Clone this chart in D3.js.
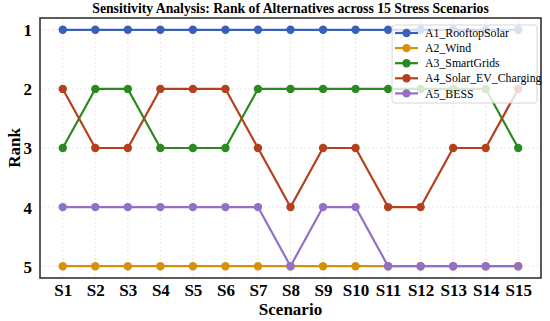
<!DOCTYPE html>
<html><head><meta charset="utf-8">
<script src="https://cdn.jsdelivr.net/npm/d3@7"></script>
<style>body{margin:0;background:#fff}svg{display:block}svg text{font-family:"Liberation Serif","Times New Roman",Times,serif}</style>
</head><body>
<svg id="c" width="550" height="321"></svg>
<script>
const scenarios = ["S1","S2","S3","S4","S5","S6","S7","S8","S9","S10","S11","S12","S13","S14","S15"];
const seriesNames = ["A1_RooftopSolar","A2_Wind","A3_SmartGrids","A4_Solar_EV_Charging","A5_BESS"];
const A1 = [1,1,1,1,1,1,1,1,1,1,1,1,1,1,1];
const A2 = [5,5,5,5,5,5,5,5,5,5,5,5,5,5,5];
const A3 = [3,2,2,3,3,3,2,2,2,2,2,2,2,2,3];
const A4 = [2,3,3,2,2,2,3,4,3,3,4,4,3,3,2];
const A5 = [4,4,4,4,4,4,4,5,4,4,5,5,5,5,5];
const rankTicks = [1,2,3,4,5];
const colors = ["#3a5fb8","#d4920c","#2a8a1f","#b5401d","#9370c8"];
const allSeries = [A1,A2,A3,A4,A5];

const svg = d3.select("#c");
const ml = 40, mr = 541, mt = 18, mb = 278;

const x = d3.scaleLinear().domain([-0.7, 14.7]).range([ml, mr]);
const y = d3.scaleLinear().domain([0.8, 5.2]).range([mt, mb]);

// grid
const g = svg.append("g");
g.selectAll(".gx").data(scenarios).join("line")
  .attr("x1",(d,i)=>x(i)).attr("x2",(d,i)=>x(i)).attr("y1",mt).attr("y2",mb)
  .attr("stroke","#d8d8d8").attr("stroke-width",0.6).attr("stroke-dasharray","2,2");
g.selectAll(".gy").data(rankTicks).join("line")
  .attr("x1",ml).attr("x2",mr).attr("y1",d=>y(d)).attr("y2",d=>y(d))
  .attr("stroke","#d8d8d8").attr("stroke-width",0.6).attr("stroke-dasharray","2,2");

// axes
const xAxis = d3.axisBottom(x).tickValues(d3.range(scenarios.length)).tickFormat(i=>scenarios[i]).tickSize(0).tickPadding(6);
const yAxis = d3.axisLeft(y).tickValues(rankTicks).tickFormat(d3.format("d")).tickSize(0).tickPadding(8);
const gx = svg.append("g").attr("transform",`translate(0,${mb})`).call(xAxis);
const gy = svg.append("g").attr("transform",`translate(${ml},0)`).call(yAxis);
[gx,gy].forEach(a=>{
  a.select(".domain").remove();
  a.selectAll("text").attr("font-family",null).attr("font-weight","bold").attr("font-size","17px").attr("fill","#000");
});
gy.selectAll("text").attr("dy","0.35em");

// lines
const line = d3.line().x((d,i)=>x(i)).y(d=>y(d));
allSeries.forEach((s,k)=>{
  svg.append("path").datum(s).attr("d",line).attr("fill","none")
    .attr("stroke",colors[k]).attr("stroke-width",2.2).attr("stroke-linejoin","round");
  svg.append("g").selectAll("circle").data(s).join("circle")
    .attr("cx",(d,i)=>x(i)).attr("cy",d=>y(d)).attr("r",4.2).attr("fill",colors[k]);
});

// frame
svg.append("rect").attr("x",ml).attr("y",mt).attr("width",mr-ml).attr("height",mb-mt)
  .attr("fill","none").attr("stroke","#333").attr("stroke-width",1.6);

// title & labels
svg.append("text").attr("x",(ml+mr)/2).attr("y",13).attr("text-anchor","middle")
  .attr("font-weight","bold").attr("font-size","13.7px").text("Sensitivity Analysis: Rank of Alternatives across 15 Stress Scenarios");
svg.append("text").attr("x",(ml+mr)/2).attr("y",315).attr("text-anchor","middle")
  .attr("font-weight","bold").attr("font-size","17px").text("Scenario");
svg.append("text").attr("transform",`translate(14,${(mt+mb)/2}) rotate(-90)`).attr("text-anchor","middle")
  .attr("dy","0.35em").attr("font-weight","bold").attr("font-size","17px").text("Rank");

// legend
const lg = svg.append("g");
lg.append("rect").attr("x",392).attr("y",25).attr("width",145).attr("height",78).attr("rx",2.5)
  .attr("fill","#fff").attr("fill-opacity",0.8).attr("stroke","#ccc").attr("stroke-width",0.8);
seriesNames.forEach((n,k)=>{
  const yy = 33 + k*15.1;
  lg.append("line").attr("x1",395).attr("x2",418).attr("y1",yy).attr("y2",yy).attr("stroke",colors[k]).attr("stroke-width",2.2);
  lg.append("circle").attr("cx",406.5).attr("cy",yy).attr("r",4.2).attr("fill",colors[k]);
  lg.append("text").attr("x",425).attr("y",yy).attr("dy","0.35em").attr("font-size","11.8px").text(n);
});
</script>
</body></html>
